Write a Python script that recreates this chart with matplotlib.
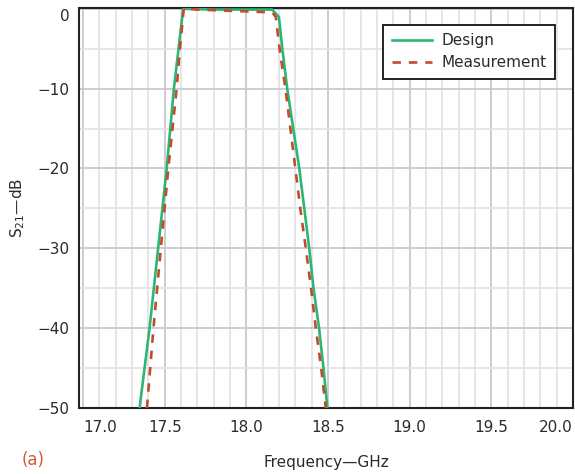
import matplotlib
matplotlib.use("Agg")
import matplotlib.pyplot as plt
from matplotlib.ticker import MultipleLocator

# Data (frequency in GHz, S21 in dB)
design_f = [17.346, 17.407, 17.512, 17.556, 17.613, 17.80, 18.00, 18.157, 18.199,
            18.220, 18.250, 18.324, 18.385, 18.411, 18.445, 18.472, 18.496]
design_db = [-50, -40, -20, -10, 0.0, -0.1, -0.1, -0.1, -1.0,
             -5, -10, -20, -30, -35, -40, -45, -50]

meas_f = [17.391, 17.431, 17.476, 17.522, 17.573, 17.593, 17.617, 17.70, 17.90, 18.10,
          18.16, 18.18, 18.203, 18.239, 18.300, 18.330, 18.364, 18.396, 18.425, 18.458, 18.486]
meas_db = [-50, -40, -30, -20, -10, -5, 0.1, -0.1, -0.25, -0.4,
           -0.5, -1.0, -5, -10, -20, -25, -30, -35, -40, -45, -50]

x_ticks = [17.0, 17.5, 18.0, 18.5, 19.0, 19.5, 20.0]
x_tick_labels = ["17.0", "17.5", "18.0", "18.5", "19.0", "19.5", "20.0"]
y_ticks = [0, -10, -20, -30, -40, -50]
y_tick_labels = ["0", "\u221210", "\u221220", "\u221230", "\u221240", "\u221250"]

GREEN = "#2cb673"
RED = "#c44a2c"
TEXT = "#2a2a2a"

plt.rcParams["font.family"] = ["DejaVu Sans"]
plt.rcParams["mathtext.fontset"] = "dejavusans"

W, H = 575, 474
fig = plt.figure(figsize=(W / 100, H / 100), dpi=100)
L, R, T, B = 79, 573, 8, 408
ax = fig.add_axes([L / W, 1 - B / H, (R - L) / W, (B - T) / H])

ax.set_xlim(16.975, 20.0)
ax.set_ylim(-50, 0.1)

ax.xaxis.set_major_locator(MultipleLocator(0.5))
ax.xaxis.set_minor_locator(MultipleLocator(0.1))
ax.yaxis.set_major_locator(MultipleLocator(10))
ax.yaxis.set_minor_locator(MultipleLocator(5))
ax.grid(which="major", color="#c9c9c9", linewidth=1.3, zorder=0)
ax.grid(which="minor", color="#e4e4e4", linewidth=1.3, zorder=0)
ax.set_axisbelow(True)

ax.plot(design_f, design_db, color=GREEN, linewidth=1.9, label="Design",
        solid_joinstyle="miter", zorder=3)
ax.plot(meas_f, meas_db, color=RED, linewidth=1.9, linestyle=(0, (3.2, 3.0)),
        label="Measurement", zorder=4)

ax.set_xticks(x_ticks)
ax.set_xticklabels(x_tick_labels)
ax.set_yticks(y_ticks)
ax.set_yticklabels(y_tick_labels)
ax.tick_params(which="both", length=0, labelsize=11, colors=TEXT)
ax.tick_params(axis="x", pad=9)
ax.tick_params(axis="y", pad=7)

xl = ax.get_xticklabels()
xl[0].set_ha("left")
xl[-1].set_ha("right")
yl = ax.get_yticklabels()
yl[0].set_va("top")

for s in ax.spines.values():
    s.set_color("#222222")
    s.set_linewidth(1.5)

ax.set_xlabel("Frequency\u2014GHz", fontsize=11, color=TEXT)
ax.xaxis.set_label_coords(0.5, -(463 - B) / (B - T))
ax.xaxis.label.set_va("center")
ax.set_ylabel("S$_{21}$\u2014dB", fontsize=11, color=TEXT)
ax.yaxis.set_label_coords(-(L - 18) / (R - L), 0.5)
ax.yaxis.label.set_va("center")

leg = ax.legend(loc="upper right",
                bbox_to_anchor=((555 - L) / (R - L), (B - 25) / (B - T)),
                borderaxespad=0, fancybox=False, framealpha=1,
                edgecolor="#111111", fontsize=11, handlelength=2.6,
                handletextpad=0.65, borderpad=0.55, labelspacing=0.45)
leg.get_frame().set_linewidth(1.3)
for t in leg.get_texts():
    t.set_color(TEXT)

fig.text(33 / W, 1 - 460 / H, "(a)", fontsize=12, color="#cf5a36",
         ha="center", va="center")

fig.savefig("out.png", dpi=100)
